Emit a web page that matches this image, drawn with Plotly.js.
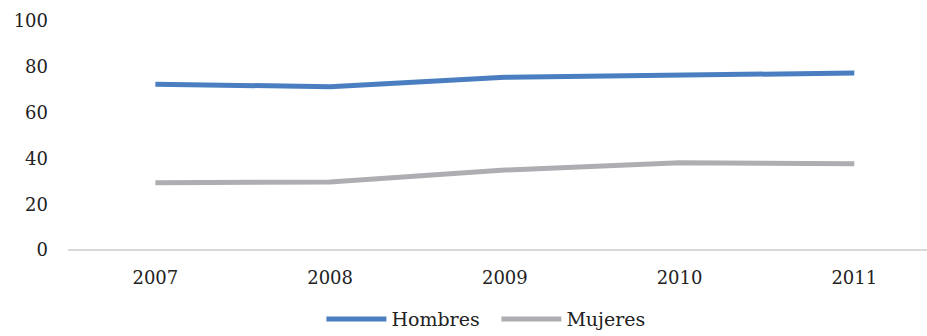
<!DOCTYPE html>
<html>
<head>
<meta charset="utf-8">
<script src="https://cdn.plot.ly/plotly-3.0.1.min.js"></script>
<style>html,body{margin:0;padding:0;background:#fff;}#chart{width:927px;height:336px;}</style>
</head>
<body>
<div id="chart"></div>
<script>
const years = ["2007", "2008", "2009", "2010", "2011"];
const hombres = [72.4, 71.3, 75.4, 76.4, 77.3];
const mujeres = [29.4, 29.7, 34.9, 38.1, 37.7];
const yTicks = [0, 20, 40, 60, 80, 100];

const font = {family: "DejaVu Serif, Georgia, serif", size: 18, color: "#222"};
const legendFont = {family: "DejaVu Serif, Georgia, serif", size: 19, color: "#222"};

const traces = [
  {x: years, y: hombres, name: "Hombres", type: "scatter", mode: "lines",
   line: {color: "#4A7EC1", width: 5}},
  {x: years, y: mujeres, name: "Mujeres", type: "scatter", mode: "lines",
   line: {color: "#AEAEB2", width: 5}}
];

const layout = {
  width: 927, height: 336,
  margin: {l: 68, r: 0, t: 21, b: 86, autoexpand: false},
  paper_bgcolor: "#fff", plot_bgcolor: "#fff",
  font: font,
  showlegend: true,
  legend: {orientation: "h", x: 0.295, xanchor: "left", yref: "container", y: 0.05, yanchor: "middle",
           font: legendFont, itemwidth: 60, entrywidth: 100, entrywidthmode: "pixels"},
  xaxis: {type: "category", range: [-0.5, 4.416], showgrid: false, zeroline: false,
          showline: false, ticks: "", tickfont: font, ticklabelstandoff: 15},
  yaxis: {range: [0, 100], tickvals: yTicks, showgrid: false, zeroline: true,
          zerolinecolor: "#d9d9d9", zerolinewidth: 1.5, showline: false, ticks: "",
          ticklabelstandoff: 19, tickfont: font}
};

Plotly.newPlot("chart", traces, layout, {staticPlot: true, displayModeBar: false});
</script>
</body>
</html>
